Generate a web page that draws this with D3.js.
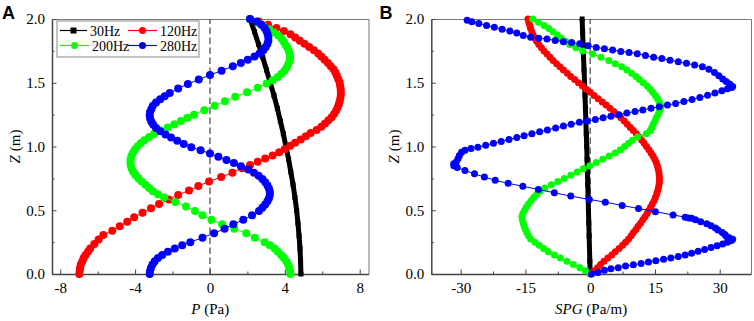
<!DOCTYPE html>
<html>
<head>
<meta charset="utf-8">
<script src="https://cdn.jsdelivr.net/npm/d3@7"></script>
<style>
body { margin: 0; background: #fff; }
text { font-family: "Liberation Serif", "Times New Roman", serif; }
</style>
</head>
<body>
<script>
// series names and values, each point is [Z (m), value]
const freqs = ['30Hz', '120Hz', '200Hz', '280Hz'];

const pressure30 = [[0,4.86],[0.1,4.84],[0.2,4.81],[0.3,4.76],[0.4,4.7],[0.5,4.63],[0.6,4.54],[0.7,4.44],[0.8,4.32],[0.9,4.2],[1,4.06],[1.1,3.92],[1.2,3.76],[1.3,3.6],[1.4,3.42],[1.5,3.22],[1.6,3.02],[1.7,2.82],[1.8,2.6],[1.9,2.38],[2,2.14]];

const pressure120 = [[0,-6.98],[0.025,-6.96],[0.05,-6.94],[0.075,-6.9],[0.1,-6.82],[0.125,-6.75],[0.15,-6.65],[0.175,-6.52],[0.2,-6.4],
  [0.235,-6.18],[0.27,-5.95],[0.305,-5.7],[0.34,-5.22],[0.375,-4.82],[0.41,-4.42],[0.445,-4.05],[0.48,-3.6],[0.515,-3.15],[0.55,-2.72],[0.585,-2.2],[0.62,-1.7],[0.655,-1.12],[0.69,-0.62],[0.725,-0.05],[0.76,0.6],[0.795,1.2],[0.83,1.72],
  [0.855,2.14],[0.88,2.55],[0.905,2.95],[0.93,3.35],[0.955,3.7],[0.98,4.0],[1.005,4.3],[1.03,4.55],[1.055,4.85],[1.08,5.12],[1.105,5.38],[1.13,5.7],[1.155,5.95],[1.18,6.15],[1.205,6.33],[1.23,6.5],[1.255,6.63],[1.28,6.74],[1.305,6.82],[1.33,6.88],[1.355,6.93],[1.38,6.97],[1.405,6.99],[1.43,6.99],[1.455,6.98],[1.48,6.95],[1.505,6.92],[1.53,6.85],[1.555,6.78],[1.58,6.7],[1.605,6.6],[1.63,6.45],[1.655,6.3],[1.68,6.12],[1.705,5.95],[1.73,5.78],[1.755,5.55],[1.78,5.3],[1.805,5.05],[1.83,4.8],[1.855,4.55],[1.88,4.3],[1.905,3.95],[1.93,3.55],[1.955,3.1],[1.98,2.6],[2,2.14]];

const pressure200 = [[0,4.3],[0.025,4.28],[0.05,4.24],[0.075,4.17],[0.1,4.08],[0.125,3.95],[0.15,3.8],[0.175,3.62],[0.2,3.45],[0.225,3.2],[0.25,2.92],
  [0.285,2.4],[0.32,1.94],[0.355,1.3],[0.39,0.65],[0.425,0.08],[0.46,-0.4],[0.495,-0.8],[0.53,-1.28],[0.565,-1.85],[0.6,-2.45],
  [0.625,-2.78],[0.65,-3.05],[0.675,-3.25],[0.7,-3.45],[0.725,-3.65],[0.75,-3.82],[0.775,-3.98],[0.8,-4.1],[0.825,-4.18],[0.85,-4.23],[0.875,-4.25],[0.9,-4.24],[0.925,-4.2],[0.95,-4.12],[0.975,-4.02],[1,-3.88],[1.025,-3.7],[1.05,-3.5],[1.075,-3.25],[1.1,-2.98],[1.125,-2.65],[1.15,-2.25],[1.175,-1.9],[1.2,-1.55],[1.225,-1.2],[1.25,-0.85],
  [1.285,-0.3],[1.32,0.25],[1.355,0.8],[1.39,1.35],[1.425,1.98],[1.46,2.55],[1.495,3.03],
  [1.52,3.35],[1.545,3.62],[1.57,3.82],[1.595,3.98],[1.62,4.1],[1.645,4.18],[1.67,4.25],[1.695,4.28],[1.72,4.27],[1.745,4.22],[1.77,4.15],[1.795,4.05],[1.82,3.95],[1.845,3.83],[1.87,3.65],[1.895,3.42],[1.92,3.15],[1.945,2.85],[1.97,2.55],[2,2.14]];

const pressure280 = [[0,-3.22],[0.025,-3.2],[0.05,-3.15],[0.075,-3.07],[0.1,-2.95],[0.125,-2.78],[0.15,-2.55],[0.175,-2.25],[0.2,-1.88],[0.225,-1.48],[0.25,-1.05],
  [0.285,-0.4],[0.32,0.22],[0.355,0.78],[0.39,1.25],[0.425,1.78],[0.46,2.25],[0.495,2.62],
  [0.52,2.8],[0.545,2.95],[0.57,3.07],[0.595,3.15],[0.62,3.2],[0.645,3.2],[0.67,3.15],[0.695,3.07],[0.72,2.95],[0.745,2.8],[0.77,2.6],[0.795,2.35],
  [0.82,2.05],[0.845,1.65],[0.87,1.28],[0.895,0.88],[0.92,0.45],[0.945,0],[0.97,-0.5],[0.995,-1.0],[1.02,-1.4],[1.045,-1.75],[1.07,-2.08],[1.095,-2.38],
  [1.12,-2.65],[1.145,-2.88],[1.17,-3.03],[1.195,-3.13],[1.22,-3.2],[1.245,-3.22],[1.27,-3.2],[1.295,-3.13],[1.32,-3.05],[1.345,-2.88],[1.37,-2.66],[1.395,-2.42],[1.42,-2.15],
  [1.455,-1.7],[1.49,-1.18],[1.525,-0.6],[1.56,0],[1.595,0.62],[1.63,1.22],
  [1.655,1.65],[1.68,2.02],[1.705,2.38],[1.73,2.65],[1.755,2.85],[1.78,2.98],[1.805,3.07],[1.83,3.12],[1.855,3.12],[1.88,3.08],[1.905,3.02],[1.93,2.92],[1.955,2.75],[1.98,2.5],[2,2.14]];

const spg30 = [[0,0],[0.1,-0.08],[0.2,-0.16],[0.3,-0.24],[0.4,-0.32],[0.5,-0.4],[0.6,-0.48],[0.7,-0.56],[0.8,-0.64],[0.9,-0.72],[1,-0.8],[1.1,-0.9],[1.2,-1.0],[1.3,-1.1],[1.4,-1.2],[1.5,-1.3],[1.6,-1.42],[1.7,-1.54],[1.8,-1.65],[1.9,-1.76],[2,-1.86]];

const spg120 = [[0,0.1],[0.025,0.9],[0.05,1.7],[0.075,2.4],[0.1,3.2],[0.125,4.1],[0.15,5.0],[0.175,5.8],[0.2,6.7],[0.225,7.5],[0.25,8.2],[0.275,8.9],[0.3,9.5],[0.325,10.0],[0.35,10.6],[0.375,11.1],[0.4,11.7],[0.425,12.2],[0.45,12.7],[0.475,13.2],[0.5,13.6],[0.525,14.0],[0.55,14.4],[0.575,14.8],[0.6,15.1],[0.625,15.4],[0.65,15.6],[0.675,15.8],[0.7,15.95],[0.725,16.05],[0.75,16.05],[0.775,16.0],[0.8,15.9],[0.825,15.75],[0.85,15.55],[0.875,15.3],[0.9,14.95],[0.925,14.55],[0.95,14.1],[0.975,13.6],[1,13.05],[1.025,12.5],[1.05,11.95],[1.075,11.35],[1.1,10.7],[1.125,10.0],[1.15,9.3],[1.175,8.6],[1.2,7.9],[1.225,7.1],[1.25,6.3],[1.275,5.5],[1.3,4.6],[1.325,3.7],[1.35,2.8],[1.375,1.85],[1.4,0.9],[1.425,0],[1.45,-0.9],[1.475,-1.8],[1.5,-2.7],[1.525,-3.6],[1.55,-4.5],[1.575,-5.3],[1.6,-6.2],[1.625,-7.0],[1.65,-7.8],[1.675,-8.6],[1.7,-9.3],[1.725,-10.0],[1.75,-10.7],[1.775,-11.3],[1.8,-11.9],[1.825,-12.4],[1.85,-12.8],[1.875,-13.2],[1.9,-13.5],[1.925,-13.8],[1.95,-14.0],[1.975,-14.2],[2,-14.4]];

const spg200 = [[0,0],[0.025,-1.1],[0.05,-2.4],[0.075,-3.9],[0.1,-5.4],[0.125,-6.9],[0.15,-8.3],[0.175,-9.7],[0.2,-10.8],[0.225,-11.8],[0.25,-12.8],[0.275,-13.8],[0.3,-14.3],[0.325,-14.7],[0.35,-15.0],[0.375,-15.3],[0.4,-15.5],[0.425,-15.7],[0.45,-15.8],[0.475,-15.6],[0.5,-15.2],[0.525,-14.8],[0.55,-14.3],[0.575,-13.7],[0.6,-13.1],[0.625,-12.4],[0.65,-11.6],[0.675,-10.5],[0.7,-9.0],[0.725,-7.5],[0.75,-6.0],[0.775,-4.5],[0.8,-3.0],[0.825,-1.6],[0.85,-0.1],[0.875,1.4],[0.9,2.9],[0.925,4.4],[0.95,5.8],[0.975,7.0],[1,8.0],[1.025,8.9],[1.05,9.8],[1.075,11.0],[1.1,13.0],[1.125,13.9],[1.15,14.3],[1.175,14.6],[1.2,15.0],[1.225,15.3],[1.25,15.7],[1.275,16.0],[1.3,16.3],[1.325,16.3],[1.35,16.0],[1.375,15.6],[1.4,15.1],[1.425,14.5],[1.45,13.9],[1.475,13.2],[1.5,12.3],[1.525,11.4],[1.55,10.6],[1.575,9.6],[1.6,8.5],[1.625,7.3],[1.65,5.8],[1.675,4.3],[1.7,2.5],[1.725,0.6],[1.75,-1.7],[1.775,-3.3],[1.8,-4.7],[1.825,-5.7],[1.85,-6.7],[1.875,-7.6],[1.9,-8.6],[1.925,-9.6],[1.95,-10.7],[1.975,-12.0],[2,-13.3]];

const spg280 = [[0,0.3],[0.012,1.8],[0.03,3.3],[0.042,4.8],[0.05,6.5],[0.062,8.2],[0.072,10.0],[0.083,11.8],[0.094,13.5],[0.104,15.2],[0.115,17.0],[0.125,18.7],[0.137,20.4],[0.15,22.0],[0.163,23.5],[0.178,25.0],[0.192,26.5],[0.208,28.0],[0.222,29.4],[0.236,30.7],[0.25,31.8],[0.262,32.7],[0.272,33.0],
  [0.284,32.2],[0.296,31.5],[0.31,31.2],[0.325,30.6],[0.345,29.6],[0.36,29.0],[0.378,28.0],[0.395,27.0],[0.41,25.6],[0.425,24.4],[0.438,23.5],[0.44,22.8],[0.446,22.0],[0.463,19.2],
  [0.489,15.1],[0.513,11.2],[0.538,7.4],[0.563,3.5],[0.585,-0.2],[0.611,-4.5],[0.637,-8.3],[0.663,-12.0],[0.688,-15.6],[0.711,-19.0],[0.735,-22.0],[0.76,-24.5],[0.786,-26.8],[0.812,-29.0],[0.835,-30.8],[0.85,-31.6],[0.865,-31.6],
  [0.88,-31.0],[0.905,-30.6],[0.93,-30.3],[0.955,-29.8],[0.97,-29.0],[0.985,-27.6],[0.995,-26.0],[1.01,-24.2],[1.025,-22.4],[1.04,-20.6],[1.055,-18.8],[1.07,-17.0],[1.085,-15.3],[1.1,-13.5],[1.115,-11.7],[1.13,-9.9],[1.145,-8.0],[1.16,-6.2],[1.175,-4.4],[1.19,-2.5],[1.2,-0.7],[1.212,1.2],[1.225,3.0],[1.237,4.8],[1.25,6.7],[1.262,8.5],[1.275,10.4],[1.287,12.2],[1.3,14.1],[1.312,16.0],[1.325,17.9],[1.338,19.8],[1.352,21.7],[1.368,23.6],[1.385,25.4],[1.402,27.2],[1.42,28.9],[1.438,30.5],[1.452,31.8],[1.462,32.8],[1.47,33.0],
  [1.49,32.3],[1.51,31.5],[1.53,30.7],[1.555,29.8],[1.58,28.8],[1.605,27.5],[1.625,26.0],[1.64,24.2],[1.652,22.3],[1.664,20.4],[1.677,18.5],[1.69,16.6],[1.7,14.7],[1.714,12.8],[1.728,10.9],[1.738,9.0],[1.746,7.1],[1.756,5.2],[1.766,3.3],[1.777,1.4],[1.79,-0.5],[1.805,-2.4],[1.815,-4.3],[1.822,-6.2],[1.832,-8.1],[1.843,-10.0],[1.85,-11.9],[1.856,-13.8],[1.87,-15.5],[1.89,-17.0],[1.905,-18.6],[1.92,-20.4],[1.935,-22.2],[1.95,-24.0],[1.965,-25.8],[1.978,-27.4],[1.99,-28.5]];

const zTicks = [0, 0.5, 1, 1.5, 2];
const zMinor = [0.25, 0.75, 1.25, 1.75];
const pTicks = [-8, -4, 0, 4, 8];
const pMinor = [-6, -2, 2, 6];
const spgTicks = [-30, -15, 0, 15, 30];
const spgMinor = [-22.5, -7.5, 7.5, 22.5];

const colors = ['#000000', '#ff0000', '#00ff00', '#0000ff'];
const plotTop = 19, plotBottom = 274;
const serif = '"Liberation Serif", "Times New Roman", serif';

function styleAxis(sel, domainColor, domainWidth) {
    sel.attr('font-family', serif).attr('font-size', 15);
    sel.select('.domain').attr('stroke', domainColor).attr('stroke-width', domainWidth);
    sel.selectAll('.tick line').attr('stroke', '#444').attr('stroke-width', 1);
    sel.selectAll('.tick text').attr('fill', '#000')
        .style('font-family', serif).style('font-size', '15px');
}

function drawPanel(svg, p) {
    const x = d3.scaleLinear().domain(p.xDomain).range([p.left, p.right]);
    const y = d3.scaleLinear().domain([0, 2]).range([plotBottom, plotTop]);
    const g = svg.append('g');

    // top and right frame
    g.append('g').attr('transform', `translate(0,${plotTop})`)
        .call(d3.axisTop(x).tickValues([]).tickSizeOuter(0))
        .call(s => styleAxis(s, '#777', 1));
    g.append('g').attr('transform', `translate(${p.right},0)`)
        .call(d3.axisRight(y).tickValues([]).tickSizeOuter(0))
        .call(s => styleAxis(s, '#777', 1));

    // minor ticks
    g.append('g').attr('transform', `translate(0,${plotBottom})`)
        .call(d3.axisBottom(x).tickValues(p.minor).tickSize(-2.5).tickFormat(''))
        .call(s => { s.select('.domain').remove(); s.selectAll('line').attr('stroke', '#444'); });
    g.append('g').attr('transform', `translate(${p.left},0)`)
        .call(d3.axisLeft(y).tickValues(zMinor).tickSize(-2.5).tickFormat(''))
        .call(s => { s.select('.domain').remove(); s.selectAll('line').attr('stroke', '#444'); });

    // main axes
    g.append('g').attr('transform', `translate(0,${plotBottom})`)
        .call(d3.axisBottom(x).tickValues(p.ticks).tickSize(-4.5).tickSizeOuter(0).tickPadding(8).tickFormat(d => String(d)))
        .call(s => styleAxis(s, '#444', 1.5));
    g.append('g').attr('transform', `translate(${p.left},0)`)
        .call(d3.axisLeft(y).tickValues(zTicks).tickSize(-4.5).tickSizeOuter(0).tickPadding(7).tickFormat(d3.format('.1f')))
        .call(s => styleAxis(s, '#444', 1.5));

    // zero line
    g.append('line')
        .attr('x1', x(0)).attr('x2', x(0)).attr('y1', y(0)).attr('y2', y(2))
        .attr('stroke', '#444').attr('stroke-width', 1.2).attr('stroke-dasharray', '6.5,3.5');

    const line = d3.line().x(d => x(d[1])).y(d => y(d[0]));
    p.series.forEach((data, i) => {
        const c = colors[i];
        if (i === 0) {
            g.append('path').datum(data).attr('d', line)
                .attr('fill', 'none').attr('stroke', c).attr('stroke-width', 5);
            g.append('g').selectAll('path')
                .data(data).enter().append('path')
                .attr('d', d3.symbol(d3.symbolSquare, 25))
                .attr('transform', d => `translate(${x(d[1])},${y(d[0])})`)
                .attr('fill', c);
        } else {
            g.append('path').datum(data).attr('d', line)
                .attr('fill', 'none').attr('stroke', c).attr('stroke-width', 1);
            g.append('g').selectAll('circle')
                .data(data).enter().append('circle')
                .attr('cx', d => x(d[1])).attr('cy', d => y(d[0]))
                .attr('r', p.r).attr('fill', c);
        }
    });

    // axis titles
    const xt = g.append('text').attr('x', (p.left + p.right) / 2).attr('y', 314)
        .attr('text-anchor', 'middle').style('font-family', serif).style('font-size', '15px');
    xt.append('tspan').style('font-style', 'italic').text(p.xVar);
    xt.append('tspan').text(' ' + p.xUnit);

    const yt = g.append('text')
        .attr('transform', `translate(${p.left - 32},146.5) rotate(-90)`)
        .attr('text-anchor', 'middle').style('font-family', serif).style('font-size', '15px');
    yt.append('tspan').style('font-style', 'italic').text('Z');
    yt.append('tspan').text(' (m)');

    svg.append('text').attr('x', p.letterX).attr('y', 18.5)
        .style('font-family', '"Liberation Sans", Arial, sans-serif')
        .style('font-weight', 'bold').style('font-size', '18px')
        .text(p.letter);

    return {x, y, g};
}

function drawLegend(svg) {
    const lg = svg.append('g');
    lg.append('rect').attr('x', 57).attr('y', 21).attr('width', 142).attr('height', 36)
        .attr('fill', '#fff').attr('stroke', '#888').attr('stroke-width', 1);
    const pos = [[60, 30.5], [128, 30.5], [60, 45.5], [128, 45.5]];
    freqs.forEach((name, i) => {
        const [lx, ly] = pos[i];
        const w = i === 0 ? 27 : 29;
        lg.append('line').attr('x1', lx).attr('x2', lx + w).attr('y1', ly).attr('y2', ly)
            .attr('stroke', colors[i]).attr('stroke-width', 1.2);
        if (i === 0) {
            lg.append('rect').attr('x', lx + w / 2 - 3).attr('y', ly - 3).attr('width', 6).attr('height', 6)
                .attr('fill', colors[i]);
        } else {
            lg.append('circle').attr('cx', lx + w / 2).attr('cy', ly).attr('r', 3.5).attr('fill', colors[i]);
        }
        lg.append('text').attr('x', lx + w + 3).attr('y', ly + 5)
            .style('font-family', serif).style('font-size', '14px').text(name);
    });
}

function main() {
    const svg = d3.select('body').append('svg')
        .attr('width', 754).attr('height', 321);

    drawPanel(svg, {
        left: 52, right: 368.5, xDomain: [-8.44, 8.47],
        ticks: pTicks, minor: pMinor, r: 4,
        series: [pressure30, pressure120, pressure200, pressure280],
        xVar: 'P', xUnit: '(Pa)', letter: 'A', letterX: 2
    });
    drawLegend(svg);

    drawPanel(svg, {
        left: 431.3, right: 751, xDomain: [-36.8, 37.25],
        ticks: spgTicks, minor: spgMinor, r: 3.5,
        series: [spg30, spg120, spg200, spg280],
        xVar: 'SPG', xUnit: '(Pa/m)', letter: 'B', letterX: 379.5
    });
}

main();
</script>
</body>
</html>
